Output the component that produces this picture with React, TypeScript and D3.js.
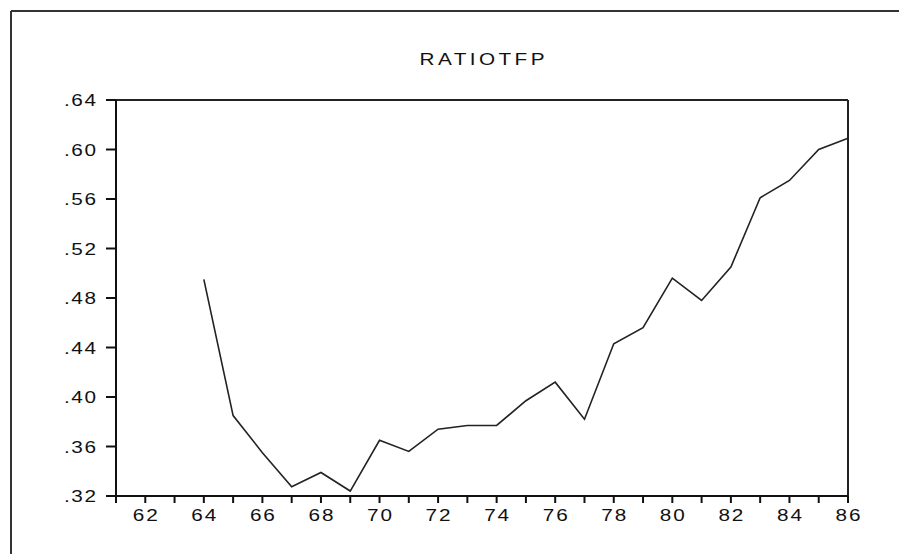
import React from 'react';
import * as d3 from 'd3';

const years = [64, 65, 66, 67, 68, 69, 70, 71, 72, 73, 74, 75, 76, 77, 78, 79, 80, 81, 82, 83, 84, 85, 86];
const ratiotfp = [
  0.495, 0.385, 0.355, 0.3275, 0.339, 0.324, 0.365, 0.356, 0.374, 0.377, 0.377, 0.397,
  0.412, 0.382, 0.443, 0.456, 0.496, 0.478, 0.505, 0.561, 0.575, 0.6, 0.609,
];
const yTicks = [0.32, 0.36, 0.4, 0.44, 0.48, 0.52, 0.56, 0.6, 0.64];
const xLabels = [62, 64, 66, 68, 70, 72, 74, 76, 78, 80, 82, 84, 86];
const xMinor = [62, 63, 64, 65, 66, 67, 68, 69, 70, 71, 72, 73, 74, 75, 76, 77, 78, 79, 80, 81, 82, 83, 84, 85, 86];
const title = 'RATIOTFP';

const W = 899;
const H = 554;
const left = 116;
const right = 848;
const top = 100;
const bottom = 496;
const FONT = 'Arial, "Liberation Sans", sans-serif';
const SX = 1.22;

// wide, old-style bitmap look: stretch the glyphs horizontally and fix the width
function WideText({ x, y, width, anchor, children }: any) {
  return (
    <g transform={`translate(${x},${y}) scale(${SX},1)`}>
      <text
        x={0}
        y={0}
        textAnchor={anchor}
        fontFamily={FONT}
        fontSize={17}
        textLength={width / SX}
        lengthAdjust="spacing"
        fill="#111"
      >
        {children}
      </text>
    </g>
  );
}

export default function App() {
  const x = d3.scaleLinear().domain([61, 86]).range([left, right]);
  const y = d3.scaleLinear().domain([0.32, 0.64]).range([bottom, top]);
  const fmt = (v: number) => d3.format('.2f')(v).replace(/^0/, '');

  const line = d3
    .line<number>()
    .x((_, i) => x(years[i]))
    .y((d) => y(d));

  return (
    <svg
      width={W}
      height={H}
      style={{ position: 'absolute', left: 0, top: 0, background: '#fff' }}
    >
      {/* outer frame (cut by the picture edge) */}
      <line x1={11} y1={11} x2={W} y2={11} stroke="#333" strokeWidth={2} />
      <line x1={11} y1={11} x2={11} y2={H} stroke="#333" strokeWidth={2} />

      <WideText x={(left + right) / 2} y={65} width={125} anchor="middle">
        {title}
      </WideText>

      {/* plot box */}
      <line x1={106} y1={top} x2={right} y2={top} stroke="#222" strokeWidth={2} />
      <line x1={right} y1={top} x2={right} y2={bottom + 7} stroke="#222" strokeWidth={2} />
      <line x1={left} y1={top} x2={left} y2={bottom + 7} stroke="#111" strokeWidth={2} />
      <line x1={106} y1={bottom} x2={right} y2={bottom} stroke="#111" strokeWidth={2} />

      {yTicks.map((t) => (
        <g key={t}>
          <line x1={106} y1={y(t)} x2={left} y2={y(t)} stroke="#111" strokeWidth={2} />
          <WideText x={96} y={y(t) + 6} width={32} anchor="end">
            {fmt(t)}
          </WideText>
        </g>
      ))}

      {xMinor.map((t) => (
        <line key={t} x1={x(t)} y1={bottom} x2={x(t)} y2={bottom + 7} stroke="#111" strokeWidth={2} />
      ))}
      {xLabels.map((t) => (
        <WideText key={t} x={x(t)} y={521} width={25} anchor="middle">
          {t}
        </WideText>
      ))}

      <path d={line(ratiotfp) ?? ''} fill="none" stroke="#222" strokeWidth={1.6} />
    </svg>
  );
}
